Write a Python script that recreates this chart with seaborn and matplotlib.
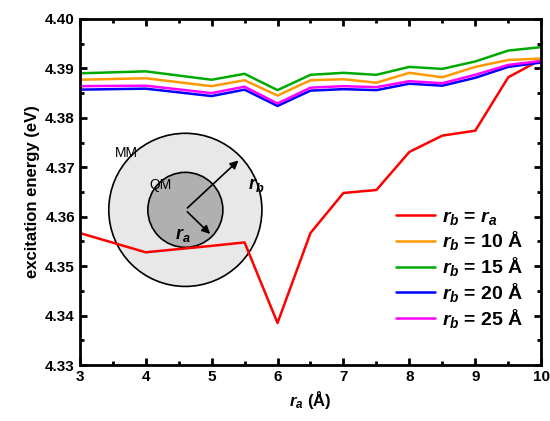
import matplotlib
matplotlib.use("Agg")
import matplotlib.pyplot as plt
import seaborn as sns
import pandas as pd
from matplotlib.patches import Circle
from matplotlib.ticker import AutoMinorLocator

sns.set_theme(style="ticks")
plt.rcParams['font.family'] = ['Liberation Sans', 'DejaVu Sans']
plt.rcParams['font.weight'] = 'bold'
plt.rcParams['mathtext.fontset'] = 'custom'
plt.rcParams['mathtext.it'] = 'Liberation Sans:bold:italic'
plt.rcParams['mathtext.rm'] = 'Liberation Sans:bold'
for k in ['text.color', 'axes.labelcolor', 'xtick.color', 'ytick.color', 'axes.edgecolor']:
    plt.rcParams[k] = 'black'

ra = [3, 4, 5, 5.5, 6, 6.5, 7, 7.5, 8, 8.5, 9, 9.5, 10]
e_same = [4.3567, 4.3528, 4.3541, 4.3548, 4.3385, 4.3567, 4.3648, 4.3654, 4.3731, 4.3764, 4.3774, 4.3882, 4.3918]
e_10 = [4.3877, 4.3880, 4.3864, 4.3876, 4.3845, 4.3876, 4.3878, 4.3871, 4.3891, 4.3882, 4.3903, 4.3917, 4.3920]
e_15 = [4.3890, 4.3894, 4.3877, 4.3889, 4.3856, 4.3887, 4.3891, 4.3887, 4.3903, 4.3899, 4.3914, 4.3936, 4.3943]
e_20 = [4.3857, 4.3859, 4.3844, 4.3857, 4.3824, 4.3855, 4.3858, 4.3856, 4.3869, 4.3865, 4.3881, 4.3903, 4.3912]
e_25 = [4.3864, 4.3865, 4.3850, 4.3863, 4.3829, 4.3861, 4.3864, 4.3862, 4.3874, 4.3870, 4.3887, 4.3907, 4.3915]
labels = ['$r_b$ = $r_a$', '$r_b$ = 10 Å', '$r_b$ = 15 Å', '$r_b$ = 20 Å', '$r_b$ = 25 Å']
colors = ['#ff0000', '#ff9900', '#00aa00', '#0000ff', '#ff00ff']

rows = []
for lab, vals in zip(labels, [e_same, e_10, e_15, e_20, e_25]):
    for x, v in zip(ra, vals):
        rows.append({'ra': x, 'E': v, 'series': lab})
df = pd.DataFrame(rows)

fig = plt.figure(figsize=(5.5, 4.21), dpi=100)

ins = fig.add_axes([0.195, 0.316, 0.284, 0.371], zorder=0)
ins.set_xlim(-1.02, 1.02)
ins.set_ylim(-1.02, 1.02)
ins.set_aspect('equal')
ins.axis('off')
ins.add_patch(Circle((0, 0), 1.0, fc='#e8e8e8', ec='black', lw=1.2))
ins.add_patch(Circle((0, 0), 0.49, fc='#b0b0b0', ec='black', lw=1.2))
ins.annotate('', xy=(0.72, 0.67), xytext=(0, 0),
             arrowprops=dict(arrowstyle='-|>', color='black', lw=1.2))
ins.annotate('', xy=(0.35, -0.34), xytext=(0, 0),
             arrowprops=dict(arrowstyle='-|>', color='black', lw=1.2))
ins.text(0.93, 0.32, '$r_b$', fontsize=13, ha='center', va='center')
ins.text(-0.03, -0.33, '$r_a$', fontsize=13, ha='center', va='center')
ins.text(-0.33, 0.32, 'QM', fontsize=10, fontweight='normal', ha='center', va='center')
ins.text(-0.77, 0.74, 'MM', fontsize=10, fontweight='normal', ha='center', va='center')

ax = fig.add_axes([0.145, 0.133, 0.839, 0.822], zorder=1)
ax.patch.set_alpha(0)
sns.lineplot(data=df, x='ra', y='E', hue='series', hue_order=labels,
             palette=colors, lw=1.8, ax=ax, sort=False)
ax.set_xlim(3, 10)
ax.set_ylim(4.33, 4.40)
ax.set_xticks(range(3, 11))
ax.set_yticks([4.33, 4.34, 4.35, 4.36, 4.37, 4.38, 4.39, 4.40])
ax.set_yticklabels([f'{v:.2f}' for v in ax.get_yticks()])
ax.xaxis.set_minor_locator(AutoMinorLocator(2))
ax.yaxis.set_minor_locator(AutoMinorLocator(2))
ax.tick_params(which='both', direction='in', top=True, right=True, width=2, labelsize=11)
ax.tick_params(which='major', length=5)
ax.tick_params(which='minor', length=3)
for s in ax.spines.values():
    s.set_linewidth(2)
ax.set_xlabel('$r_a$ (Å)', fontsize=12, fontweight='bold')
ax.set_ylabel('excitation energy (eV)', fontsize=12, fontweight='bold')
ax.legend(loc='lower right', bbox_to_anchor=(1.0, 0.05), frameon=False,
          fontsize=14, handlelength=2.0, labelspacing=0.15, handletextpad=0.4)

fig.savefig('out.png', dpi=100)
